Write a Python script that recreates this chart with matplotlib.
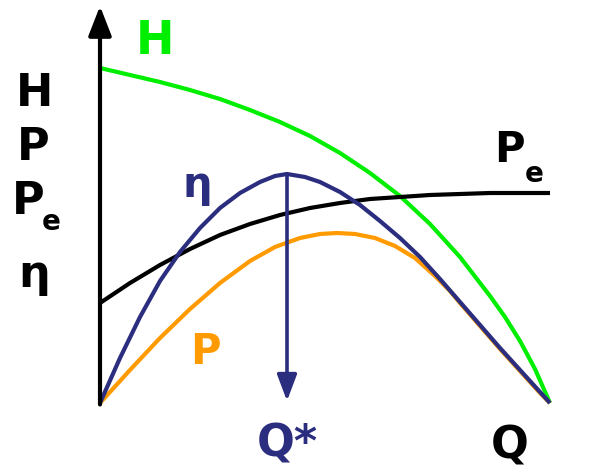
import numpy as np
import matplotlib
matplotlib.use('agg')
import matplotlib.pyplot as plt

# curve values (Q in px from origin, value in px above axis)
q_H = [0, 30, 60, 90, 120, 150, 180, 210, 240, 270, 300, 330, 360, 390, 405, 420, 435, 450]
H = [335, 328, 321, 313, 304, 293, 281, 267, 250, 230, 207, 179, 146, 107, 86, 62, 34, 0]

q_Pe = [0, 30, 60, 90, 120, 150, 180, 210, 240, 270, 300, 330, 360, 390, 450]
Pe = [100, 120, 138, 154, 168, 179, 188, 195, 200, 204, 206, 208, 209, 210, 210]

q_eta = [0, 20, 40, 60, 80, 100, 120, 140, 160, 175, 187, 205, 220, 240, 260,
         280, 300, 320, 340, 360, 380, 400, 420, 440, 450]
eta = [0, 45, 86, 122, 151, 175, 195, 210, 221, 227, 229, 226, 221, 211, 198,
       182, 165, 146, 124, 101, 78, 55, 33, 11, 0]

q_P = [0, 30, 60, 90, 120, 150, 175, 200, 220, 237, 255, 275, 295, 315, 335,
       350, 360, 380, 400, 420, 440, 450]
P = [0, 33, 65, 94, 120, 142, 156, 165, 169, 170, 169, 165, 157, 145, 127,
     112, 100, 77, 54, 32, 10, 0]

q_opt = 187   # best efficiency point
eta_max = 229

green = '#00EE00'
navy = '#2B2D7E'
orange = '#FF9A00'
fnt = 'DejaVu Sans'

fig = plt.figure(figsize=(5.96, 4.76), dpi=100)
ax = fig.add_axes([0, 0, 1, 1])
ax.set_xlim(-100, 496)
ax.set_ylim(-73, 403)
ax.axis('off')

lw = 3.0
ax.plot(q_H, H, color=green, lw=lw, solid_capstyle='butt', solid_joinstyle='round')
ax.plot(q_Pe, Pe, color='black', lw=lw, solid_capstyle='butt', solid_joinstyle='round')
ax.plot(q_P, P, color=orange, lw=lw, solid_capstyle='butt', solid_joinstyle='round')
ax.plot(q_eta, eta, color=navy, lw=lw, solid_capstyle='butt', solid_joinstyle='round')

# axes with arrows
arr = dict(arrowstyle='-|>,head_length=0.9,head_width=0.35', lw=3.0, color='black',
           shrinkA=0, shrinkB=0, mutation_scale=20)
ax.annotate('', xy=(0, 397), xytext=(0, -1.5), arrowprops=arr)
ax.annotate('', xy=(497, 0), xytext=(-1.5, 0), arrowprops=arr)

# Q* arrow
arr2 = dict(arrowstyle='-|>,head_length=0.8,head_width=0.3', lw=2.6, color=navy,
            shrinkA=0, shrinkB=0, mutation_scale=20)
ax.annotate('', xy=(q_opt, 2), xytext=(q_opt, eta_max), arrowprops=arr2)

kw = dict(fontfamily=fnt, fontweight='bold', ha='center', va='center')
ax.text(55, 361, 'H', color=green, fontsize=33, **kw)

ax.text(-65, 310, 'H', color='black', fontsize=32, **kw)
ax.text(-67, 256, 'P', color='black', fontsize=32, **kw)
ax.text(-72, 201, 'P', color='black', fontsize=32, **kw)
ax.text(-49, 181, 'e', color='black', fontsize=20, **kw)
ax.text(-66, 128, 'η', color='black', fontsize=32, **kw)

ax.text(409, 253, 'P', color='black', fontsize=30, **kw)
ax.text(434, 229, 'e', color='black', fontsize=20, **kw)

ax.text(97, 218, 'η', color=navy, fontsize=30, **kw)
ax.text(105, 51, 'P', color=orange, fontsize=30, **kw)

ax.text(187, -41, 'Q*', color=navy, fontsize=32, **kw)
ax.text(410, -43, 'Q', color='black', fontsize=32, **kw)

fig.savefig('out.png', dpi=100)
